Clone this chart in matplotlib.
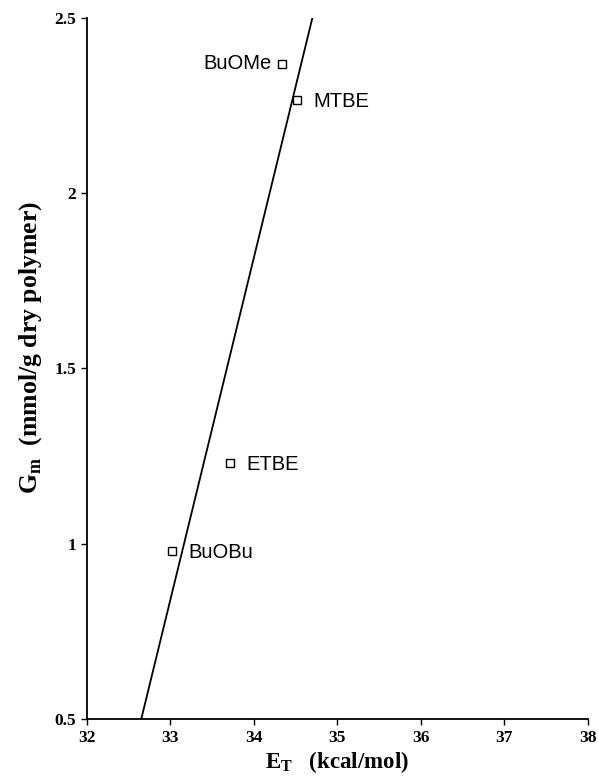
import matplotlib
matplotlib.use('Agg')
import matplotlib.pyplot as plt
import numpy as np

# datos
solventes = ['BuOMe', 'MTBE', 'ETBE', 'BuOBu']
et = [34.34, 34.51, 33.71, 33.02]       # kcal/mol
gm = [2.37, 2.265, 1.23, 0.98]          # mmol/g dry polymer

# recta de ajuste (extremos)
recta_x = [32.65, 34.70]
recta_y = [0.5, 2.5]

# desplazamiento de las etiquetas (puntos)
desp = [(-8, 0, 'right'), (12, -1, 'left'), (12, -1, 'left'), (12, -1, 'left')]

plt.rcParams['mathtext.fontset'] = 'custom'
plt.rcParams['mathtext.rm'] = 'Liberation Serif:bold'
plt.rcParams['mathtext.bf'] = 'Liberation Serif:bold'

fig = plt.figure(figsize=(5.98, 7.81), dpi=100)
ax = fig.add_axes([0.1455, 0.0794, 0.8375, 0.8976])

ax.plot(recta_x, recta_y, color='black', lw=1.3)
ax.plot(et, gm, 's', mfc='white', mec='black', ms=5.5, mew=1.0, ls='none')

for nombre, x, y, (dx, dy, ha) in zip(solventes, et, gm, desp):
    ax.annotate(nombre, (x, y), xytext=(dx, dy), textcoords='offset points',
                ha=ha, va='center', fontsize=14.5, family='Liberation Sans')

ax.set_xlim(32, 38)
ax.set_ylim(0.5, 2.5)
ax.set_xticks(np.arange(32, 39, 1))
ax.set_yticks([0.5, 1, 1.5, 2, 2.5])
ax.set_yticklabels(['0.5', '1', '1.5', '2', '2.5'])

for lab in ax.get_xticklabels() + ax.get_yticklabels():
    lab.set_family('Liberation Serif')
    lab.set_weight('bold')
    lab.set_fontsize(12.5)

ax.spines['top'].set_visible(False)
ax.spines['right'].set_visible(False)
ax.spines['left'].set_linewidth(1.3)
ax.spines['bottom'].set_linewidth(1.3)
ax.tick_params(length=4, width=1, pad=4)

ax.set_xlabel(r'E$_\mathbf{T}$   (kcal/mol)', family='Liberation Serif',
              weight='bold', fontsize=16.5, labelpad=2)
ax.set_ylabel(r'G$_\mathbf{m}$  (mmol/g dry polymer)', family='Liberation Serif',
              weight='bold', fontsize=18.5)
ax.yaxis.set_label_coords(-0.086, 0.53)

fig.savefig('out.png', dpi=100)
